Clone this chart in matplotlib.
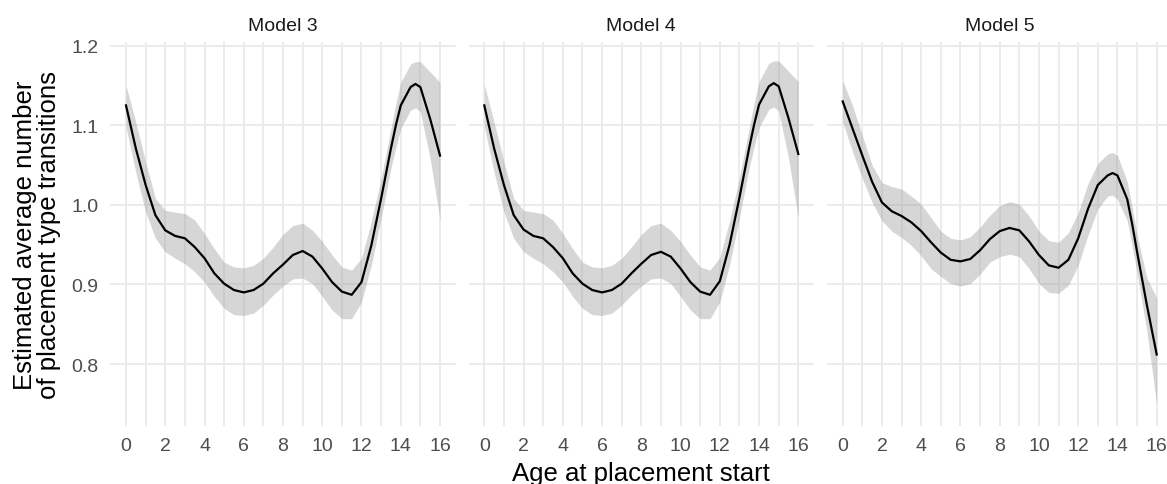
import numpy as np
import matplotlib
matplotlib.use("Agg")
import matplotlib.pyplot as plt

plt.rcParams['font.family'] = ['Liberation Sans', 'DejaVu Sans']

# ages where the curves were read (half years, plus a couple near the peaks)
age = [0, 0.5, 1, 1.5, 2, 2.5, 3, 3.5, 4, 4.5, 5, 5.5, 6, 6.5, 7, 7.5, 8, 8.5,
       9, 9.5, 10, 10.5, 11, 11.5, 12, 12.5, 13, 13.5, 13.75, 14, 14.5, 14.75,
       15, 15.5, 16]

panel_titles = ["Model 3", "Model 4", "Model 5"]

fit_m3 = [1.125, 1.071, 1.025, 0.987, 0.968, 0.961, 0.958, 0.947, 0.933, 0.914, 0.901,
          0.893, 0.890, 0.893, 0.901, 0.914, 0.925, 0.937, 0.942, 0.935, 0.920, 0.903,
          0.891, 0.887, 0.903, 0.949, 1.008, 1.071, 1.100, 1.125, 1.148, 1.152,
          1.148, 1.108, 1.062]
upper_m3 = [1.150, 1.104, 1.054, 1.008, 0.993, 0.991, 0.989, 0.981, 0.964, 0.945, 0.928,
            0.922, 0.921, 0.924, 0.933, 0.947, 0.963, 0.974, 0.977, 0.968, 0.954, 0.937,
            0.922, 0.918, 0.933, 0.979, 1.033, 1.096, 1.127, 1.154, 1.177, 1.180,
            1.180, 1.167, 1.154]
lower_m3 = [1.098, 1.041, 0.991, 0.958, 0.941, 0.933, 0.926, 0.916, 0.903, 0.885, 0.870,
            0.862, 0.861, 0.864, 0.874, 0.887, 0.898, 0.907, 0.908, 0.901, 0.885, 0.868,
            0.857, 0.857, 0.878, 0.924, 0.983, 1.046, 1.072, 1.096, 1.119, 1.122,
            1.117, 1.058, 0.981]

fit_m4 = [1.125, 1.071, 1.025, 0.987, 0.969, 0.961, 0.958, 0.947, 0.933, 0.914, 0.901,
          0.893, 0.890, 0.893, 0.901, 0.914, 0.926, 0.937, 0.941, 0.935, 0.920, 0.903,
          0.891, 0.887, 0.904, 0.950, 1.009, 1.072, 1.101, 1.126, 1.149, 1.153,
          1.149, 1.109, 1.064]
upper_m4 = [1.151, 1.104, 1.054, 1.008, 0.993, 0.991, 0.989, 0.981, 0.964, 0.945, 0.928,
            0.922, 0.921, 0.924, 0.933, 0.947, 0.963, 0.974, 0.977, 0.968, 0.954, 0.937,
            0.922, 0.918, 0.934, 0.980, 1.034, 1.097, 1.128, 1.155, 1.178, 1.181,
            1.181, 1.168, 1.155]
lower_m4 = [1.098, 1.041, 0.991, 0.958, 0.941, 0.933, 0.926, 0.916, 0.903, 0.885, 0.870,
            0.862, 0.861, 0.864, 0.874, 0.887, 0.898, 0.907, 0.908, 0.901, 0.885, 0.868,
            0.857, 0.857, 0.878, 0.925, 0.984, 1.047, 1.073, 1.097, 1.120, 1.123,
            1.118, 1.059, 0.983]

fit_m5 = [1.130, 1.096, 1.062, 1.029, 1.003, 0.992, 0.986, 0.978, 0.967, 0.953, 0.940,
          0.931, 0.929, 0.932, 0.943, 0.957, 0.967, 0.971, 0.968, 0.954, 0.937, 0.924,
          0.921, 0.931, 0.958, 0.995, 1.025, 1.037, 1.040, 1.037, 1.007, 0.976,
          0.941, 0.874, 0.812]
upper_m5 = [1.156, 1.125, 1.087, 1.050, 1.028, 1.023, 1.020, 1.011, 1.001, 0.984, 0.967,
            0.958, 0.956, 0.960, 0.972, 0.987, 0.999, 1.004, 1.001, 0.986, 0.967, 0.955,
            0.953, 0.965, 0.990, 1.027, 1.052, 1.064, 1.066, 1.062, 1.029, 0.997,
            0.962, 0.908, 0.883]
lower_m5 = [1.104, 1.067, 1.033, 1.003, 0.980, 0.967, 0.959, 0.949, 0.936, 0.920, 0.910,
            0.901, 0.898, 0.901, 0.913, 0.928, 0.935, 0.938, 0.935, 0.920, 0.901, 0.890,
            0.889, 0.899, 0.924, 0.962, 0.995, 1.011, 1.012, 1.007, 0.980, 0.948,
            0.915, 0.841, 0.749]

fits = [fit_m3, fit_m4, fit_m5]
uppers = [upper_m3, upper_m4, upper_m5]
lowers = [lower_m3, lower_m4, lower_m5]

x_ticks = [0, 2, 4, 6, 8, 10, 12, 14, 16]
y_ticks = [0.8, 0.9, 1.0, 1.1, 1.2]
y_labels = ["0.8", "0.9", "1.0", "1.1", "1.2"]

W, H = 1167, 485
fig = plt.figure(figsize=(W / 100, H / 100), dpi=100)

# panel geometry in pixels
panel_left = [110.3, 468.6, 827.0]
panel_w = 345.4
panel_top, panel_bottom = 43.3, 426.7

for i in range(3):
    ax = fig.add_axes([panel_left[i] / W, 1 - panel_bottom / H,
                       panel_w / W, (panel_bottom - panel_top) / H])
    ax.fill_between(age, lowers[i], uppers[i], color="#999999", alpha=0.4, lw=0, zorder=2)
    ax.plot(age, fits[i], color="black", lw=1.6, zorder=3)

    ax.set_xlim(-0.8, 16.8)
    ax.set_ylim(0.7225, 1.2043)
    ax.set_xticks(x_ticks)
    ax.set_xticks(range(1, 16, 2), minor=True)
    ax.set_yticks(y_ticks)
    ax.grid(True, which="major", color="#EBEBEB", lw=1.4, zorder=0)
    ax.grid(True, which="minor", axis="x", color="#EBEBEB", lw=1.3, zorder=0)
    ax.set_axisbelow(True)
    for s in ax.spines.values():
        s.set_visible(False)
    ax.tick_params(which="both", length=0)
    ax.tick_params(axis="x", labelsize=14, labelcolor="#4D4D4D", pad=8)
    ax.tick_params(axis="y", labelsize=14, labelcolor="#4D4D4D", pad=8.5)
    if i > 0:
        ax.set_yticklabels([])
    else:
        ax.set_yticklabels(y_labels)
    ax.set_title(panel_titles[i], fontsize=14, color="#1A1A1A", pad=9)

fig.text(641 / W, 1 - 474 / H, "Age at placement start", ha="center", va="center",
         fontsize=18.5, color="black")
fig.text(37 / W, 1 - 235 / H, "Estimated average number\nof placement type transitions",
         ha="center", va="center", rotation=90, multialignment="center",
         fontsize=18.5, color="black", linespacing=1.05)

fig.savefig("out.png", dpi=100)
